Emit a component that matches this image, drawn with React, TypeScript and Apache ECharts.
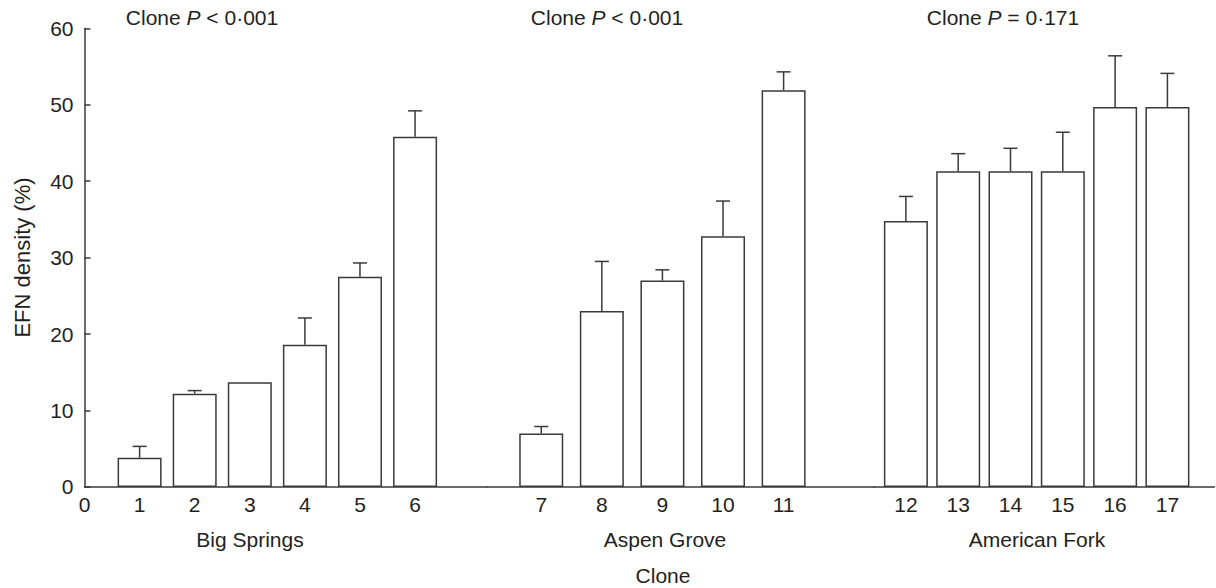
import { useEffect, useRef } from "react";
import * as echarts from "echarts";

// ---- data ----
const groupNames = ["Big Springs", "Aspen Grove", "American Fork"];
const groupPRelation = ["<", "<", "="];
const groupPValue = ["0·001", "0·001", "0·171"];

const clonesBigSprings = [1, 2, 3, 4, 5, 6];
const meansBigSprings = [3.8, 12.2, 13.7, 18.6, 27.5, 45.8];
const seBigSprings = [1.5, 0.4, 0, 3.5, 1.8, 3.4];

const clonesAspenGrove = [7, 8, 9, 10, 11];
const meansAspenGrove = [7.0, 23.0, 27.0, 32.8, 51.9];
const seAspenGrove = [0.9, 6.5, 1.4, 4.6, 2.4];

const clonesAmericanFork = [12, 13, 14, 15, 16, 17];
const meansAmericanFork = [34.8, 41.3, 41.3, 41.3, 49.7, 49.7];
const seAmericanFork = [3.2, 2.3, 3.0, 5.1, 6.7, 4.4];

const yMin = 0;
const yMax = 60;
const yInterval = 10;
const originLabel = 0;

const yAxisName = "EFN density (%)";
const xAxisName = "Clone";

// ---- layout / style ----
const FONT = "'Liberation Sans', Arial, Helvetica, sans-serif";
const INK = "#231f20";
const LINE = "#3a3a3a";
const FS = 21;
const TICK_FS = 21;
const TOP = 28.3;
const HEIGHT = 458.6;

const groups = [
  { clones: clonesBigSprings, means: meansBigSprings, se: seBigSprings, left: 84.5, width: 402.2, min: 0, max: 7.3, extra: [originLabel] },
  { clones: clonesAspenGrove, means: meansAspenGrove, se: seAspenGrove, left: 486.7, width: 387.8, min: 6.1, max: 12.5, extra: [] as number[] },
  { clones: clonesAmericanFork, means: meansAmericanFork, se: seAmericanFork, left: 874.5, width: 340, min: 11.4, max: 17.9, extra: [] as number[] },
];
const titleX = [202, 607, 1003];
const groupLabelX = [250, 665, 1037];

export default function App() {
  const ref = useRef<HTMLDivElement>(null);
  useEffect(() => {
    if (!ref.current) return;
    const chart = echarts.init(ref.current, undefined, { renderer: "svg" });

    const grid = groups.map((g) => ({ left: g.left, width: g.width, top: TOP, height: HEIGHT, containLabel: false }));
    const xAxis = groups.map((g, i) => ({
      type: "value",
      gridIndex: i,
      min: g.min,
      max: g.max,
      splitLine: { show: false },
      axisTick: { show: false },
      axisLine: { show: true, onZero: false, lineStyle: { color: LINE, width: 1.5 } },
      axisLabel: {
        customValues: [...g.extra, ...g.clones],
        color: INK,
        fontSize: TICK_FS,
        fontFamily: FONT,
        margin: 7,
        formatter: (v: number) => String(v),
      },
    }));
    const yAxis = groups.map((g, i) => ({
      type: "value",
      gridIndex: i,
      min: yMin,
      max: yMax,
      interval: yInterval,
      show: i === 0,
      splitLine: { show: false },
      axisLine: { show: i === 0, lineStyle: { color: LINE, width: 1.5 } },
      axisTick: { show: i === 0, inside: true, length: 6, lineStyle: { color: LINE, width: 1.5 } },
      axisLabel: { show: i === 0, color: INK, fontSize: TICK_FS, fontFamily: FONT, margin: 11 },
    }));

    const series: any[] = [];
    groups.forEach((g, i) => {
      series.push({
        type: "bar",
        xAxisIndex: i,
        yAxisIndex: i,
        barWidth: 44,
        data: g.clones.map((c, j) => [c, g.means[j]]),
        itemStyle: { color: "#ffffff", borderColor: LINE, borderWidth: 1.5 },
        silent: true,
      });
      series.push({
        type: "custom",
        xAxisIndex: i,
        yAxisIndex: i,
        encode: { x: 0, y: 1 },
        data: g.clones.map((c, j) => [c, g.means[j], g.se[j]]),
        z: 5,
        silent: true,
        renderItem: (params: any, api: any) => {
          const x = api.value(0);
          const m = api.value(1);
          const e = api.value(2);
          if (!e) return null;
          const p0 = api.coord([x, m]);
          const p1 = api.coord([x, m + e]);
          const st = { stroke: LINE, lineWidth: 1.5 };
          return {
            type: "group",
            children: [
              { type: "line", shape: { x1: p0[0], y1: p0[1], x2: p1[0], y2: p1[1] }, style: st },
              { type: "line", shape: { x1: p1[0] - 7, y1: p1[1], x2: p1[0] + 7, y2: p1[1] }, style: st },
            ],
          };
        },
      });
    });

    const textStyle = (extra: any) => ({
      fontSize: FS,
      fontFamily: FONT,
      fill: INK,
      align: "center",
      verticalAlign: "middle",
      textAlign: "center",
      textVerticalAlign: "middle",
      ...extra,
    });

    const graphic: any[] = [];
    groups.forEach((_, i) => {
      graphic.push({
        type: "text",
        x: titleX[i],
        y: 17.5,
        style: textStyle({
          text: `Clone {i|P} ${groupPRelation[i]} ${groupPValue[i]}`,
          rich: { i: { fontStyle: "italic", fontSize: FS, fontFamily: FONT, fill: INK } },
        }),
      });
      graphic.push({
        type: "text",
        x: groupLabelX[i],
        y: 539,
        style: textStyle({ text: groupNames[i] }),
      });
    });
    graphic.push({ type: "text", x: 663, y: 575, style: textStyle({ text: xAxisName }) });
    graphic.push({ type: "text", x: 22, y: 257.5, rotation: Math.PI / 2, style: textStyle({ text: yAxisName, fontSize: 22 }) });

    chart.setOption({
      animation: false,
      backgroundColor: "#ffffff",
      grid,
      xAxis,
      yAxis,
      series,
      graphic,
    });
    return () => chart.dispose();
  }, []);
  return <div ref={ref} style={{ position: "absolute", left: 0, top: 0, width: 1216, height: 588 }} />;
}
